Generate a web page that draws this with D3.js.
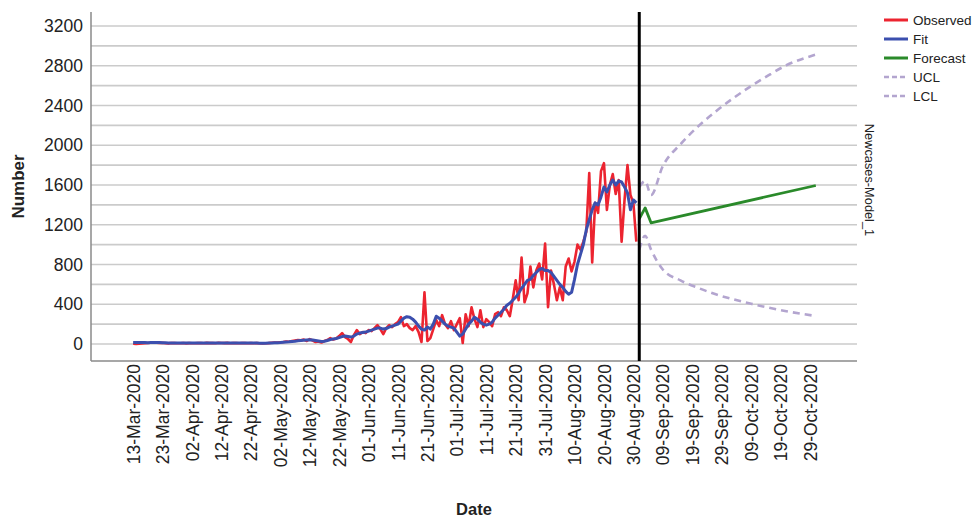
<!DOCTYPE html>
<html>
<head>
<meta charset="utf-8">
<script src="https://cdn.jsdelivr.net/npm/d3@7"></script>
<style>
  html, body { margin: 0; padding: 0; background: #fff; }
  svg { display: block; font-family: "Liberation Sans", Arial, sans-serif; }
</style>
</head>
<body>
<svg id="chart" width="974" height="521"></svg>
<script>
// ---------------- DATA ----------------
const seriesStart = "2020-03-13";   // first day of the daily observed / fit series
const observed = [
  2,1,3,5,8,10,12,15,14,10,
  12,8,6,10,9,7,8,10,6,9,
  8,7,10,9,8,11,9,10,8,12,
  10,9,11,8,10,9,7,9,10,8,
  9,8,10,7,6,8,9,12,15,14,
  18,20,25,22,30,35,40,38,45,30,
  50,35,20,25,15,30,40,60,45,55,
  80,110,70,50,20,90,140,100,120,110,
  140,130,160,190,150,100,160,190,170,200,
  220,270,180,200,160,140,180,120,20,520,
  30,60,150,240,180,290,200,160,230,140,
  200,260,10,300,180,370,250,170,340,170,
  250,220,180,300,320,280,370,340,280,450,
  640,440,870,420,510,780,570,740,810,650,
  1010,370,740,600,440,570,440,780,860,730,
  830,1000,950,1030,1130,1720,820,1420,1320,1740,
  1820,1350,1600,1710,1510,1650,1030,1450,1800,1500,1420,1030
];
const fit = [
  15,16,15,14,14,13,14,15,15,14,
  13,12,11,11,10,10,10,10,9,9,
  9,9,9,9,9,9,9,9,10,10,
  10,10,10,10,9,9,9,9,9,9,
  9,9,9,8,8,8,9,10,12,13,
  15,18,20,22,25,28,32,35,38,40,
  42,40,35,30,25,28,35,45,50,55,
  65,75,80,75,70,80,100,110,115,120,
  130,140,150,160,160,150,155,170,180,190,
  200,230,260,275,270,250,220,180,150,140,
  170,150,200,280,260,230,200,180,170,160,
  120,80,100,150,200,230,270,250,220,200,
  190,200,220,260,290,320,350,390,410,440,
  470,510,560,600,640,650,690,720,750,760,
  740,740,720,680,640,600,570,530,500,520,
  650,800,900,1000,1150,1250,1350,1420,1400,1480,
  1580,1530,1600,1650,1600,1640,1630,1580,1520,1350,1450,1420
];
const forecastDates = ["2020-09-01","2020-09-03","2020-09-05","2020-10-31"];
const forecast      = [1260, 1370, 1220, 1595];
const clDates = ["2020-09-01","2020-09-03","2020-09-05","2020-09-09","2020-09-15","2020-09-21",
                 "2020-09-27","2020-10-03","2020-10-09","2020-10-15","2020-10-21","2020-10-31"];
const ucl = [1580, 1640, 1500, 1790, 2010, 2190, 2340, 2475, 2595, 2705, 2805, 2912];
const lcl = [ 950, 1090,  950,  750,  640,  565,  500,  450,  405,  365,  330,  282];
const referenceDate = "2020-09-01";
const xTickLabels = ["13-Mar-2020","23-Mar-2020","02-Apr-2020","12-Apr-2020","22-Apr-2020",
  "02-May-2020","12-May-2020","22-May-2020","01-Jun-2020","11-Jun-2020","21-Jun-2020",
  "01-Jul-2020","11-Jul-2020","21-Jul-2020","31-Jul-2020","10-Aug-2020","20-Aug-2020",
  "30-Aug-2020","09-Sep-2020","19-Sep-2020","29-Sep-2020","09-Oct-2020","19-Oct-2020","29-Oct-2020"];
const yTickLabels = [0, 400, 800, 1200, 1600, 2000, 2400, 2800, 3200];
const gridStep = 200;
const legendItems = ["Observed", "Fit", "Forecast", "UCL", "LCL"];
const modelName = "Newcases-Model_1";

// ---------------- LAYOUT ----------------
const svg = d3.select("#chart");
const plot = { left: 91, right: 857, top: 12, bottom: 361 };
const parseISO = d3.timeParse("%Y-%m-%d");
const parseTick = d3.timeParse("%d-%b-%Y");
const fmtTick = d3.timeFormat("%d-%b-%Y");

const x = d3.scaleTime()
  .domain([new Date(2020, 1, 27, 16), new Date(2020, 10, 14, 0)])
  .range([plot.left, plot.right]);
const y = d3.scaleLinear()
  .domain([-171, 3341])
  .range([plot.bottom, plot.top]);

const colors = { obs: "#ec2430", fit: "#3b4fae", fc: "#2a8a2a", cl: "#b3a5cf", grid: "#cbcbcb", axis: "#8a8a8a" };

// gridlines
const gridVals = d3.range(0, 3341, gridStep);
svg.append("g").selectAll("line").data(gridVals).join("line")
  .attr("x1", plot.left).attr("x2", plot.right)
  .attr("y1", d => y(d)).attr("y2", d => y(d))
  .attr("stroke", colors.grid).attr("stroke-width", 1.6);

// y axis
const yAxis = d3.axisLeft(y).tickValues(yTickLabels).tickFormat(d3.format("d")).tickSize(0).tickPadding(8);
const gy = svg.append("g").attr("transform", `translate(${plot.left},0)`).call(yAxis);
gy.select(".domain").remove();
gy.selectAll("text").attr("font-size", 17.5).attr("fill", "#222")
  .attr("font-family", "'Liberation Sans', Arial, sans-serif");
svg.append("line").attr("x1", plot.left).attr("x2", plot.left)
  .attr("y1", plot.top).attr("y2", plot.bottom).attr("stroke", colors.axis).attr("stroke-width", 1.5);

// x axis
const tickDates = xTickLabels.map(parseTick);
const xAxis = d3.axisBottom(x).tickValues(tickDates).tickFormat(fmtTick).tickSize(0).tickPadding(0);
const gx = svg.append("g").attr("transform", `translate(0,${plot.bottom})`).call(xAxis);
gx.select(".domain").remove();
gx.selectAll("text")
  .attr("font-size", 17.5).attr("fill", "#222")
  .attr("font-family", "'Liberation Sans', Arial, sans-serif")
  .attr("text-anchor", "end")
  .attr("dy", "0.35em")
  .attr("transform", "translate(0,3) rotate(-90)")
  .attr("x", 0).attr("y", 0);
svg.append("line").attr("x1", plot.left).attr("x2", plot.right)
  .attr("y1", plot.bottom).attr("y2", plot.bottom).attr("stroke", colors.axis).attr("stroke-width", 1.5);

// series data
const start = parseISO(seriesStart);
const obsData = observed.map((v, i) => ({ date: d3.timeDay.offset(start, i), v }));
const fitData = fit.map((v, i) => ({ date: d3.timeDay.offset(start, i), v }));
const fcData = forecastDates.map((d, i) => ({ date: parseISO(d), v: forecast[i] }));
const uclData = clDates.map((d, i) => ({ date: parseISO(d), v: ucl[i] }));
const lclData = clDates.map((d, i) => ({ date: parseISO(d), v: lcl[i] }));

const line = d3.line().x(d => x(d.date)).y(d => y(d.v));
const smooth = d3.line().x(d => x(d.date)).y(d => y(d.v)).curve(d3.curveMonotoneX);

svg.append("path").datum(uclData).attr("d", smooth).attr("fill", "none")
  .attr("stroke", colors.cl).attr("stroke-width", 2.6).attr("stroke-dasharray", "7,5");
svg.append("path").datum(lclData).attr("d", smooth).attr("fill", "none")
  .attr("stroke", colors.cl).attr("stroke-width", 2.6).attr("stroke-dasharray", "7,5");
svg.append("path").datum(obsData).attr("d", line).attr("fill", "none")
  .attr("stroke", colors.obs).attr("stroke-width", 2.6).attr("stroke-linejoin", "round");
svg.append("path").datum(fitData).attr("d", line).attr("fill", "none")
  .attr("stroke", colors.fit).attr("stroke-width", 3).attr("stroke-linejoin", "round");
svg.append("path").datum(fcData).attr("d", line).attr("fill", "none")
  .attr("stroke", colors.fc).attr("stroke-width", 2.8).attr("stroke-linejoin", "round");

// reference line
const rx = x(parseISO(referenceDate));
svg.append("line").attr("x1", rx).attr("x2", rx).attr("y1", plot.top).attr("y2", plot.bottom)
  .attr("stroke", "#000").attr("stroke-width", 3);

// axis titles
svg.append("text").attr("transform", `translate(24,${(plot.top + plot.bottom) / 2}) rotate(-90)`)
  .attr("text-anchor", "middle").attr("font-size", 17).attr("font-weight", "bold").attr("fill", "#222")
  .text("Number");
svg.append("text").attr("x", (plot.left + plot.right) / 2).attr("y", 515)
  .attr("text-anchor", "middle").attr("font-size", 16.5).attr("font-weight", "bold").attr("fill", "#222")
  .text("Date");

// model label
svg.append("text").attr("transform", `translate(865,180) rotate(90)`)
  .attr("text-anchor", "middle").attr("font-size", 12.8).attr("fill", "#222")
  .text(modelName);

// legend
const legStyles = [
  { c: colors.obs, dash: null, w: 3 },
  { c: colors.fit, dash: null, w: 3 },
  { c: colors.fc, dash: null, w: 3 },
  { c: colors.cl, dash: "5,3", w: 2.4 },
  { c: colors.cl, dash: "5,3", w: 2.4 }
];
const leg = svg.append("g").attr("transform", "translate(884,20)");
legendItems.forEach((name, i) => {
  const g = leg.append("g").attr("transform", `translate(0,${i * 19})`);
  g.append("line").attr("x1", 0).attr("x2", 24).attr("y1", 0).attr("y2", 0)
    .attr("stroke", legStyles[i].c).attr("stroke-width", legStyles[i].w)
    .attr("stroke-dasharray", legStyles[i].dash);
  g.append("text").attr("x", 29).attr("y", 0).attr("dy", "0.35em")
    .attr("font-size", 13.5).attr("fill", "#222").text(name);
});
</script>
</body>
</html>
